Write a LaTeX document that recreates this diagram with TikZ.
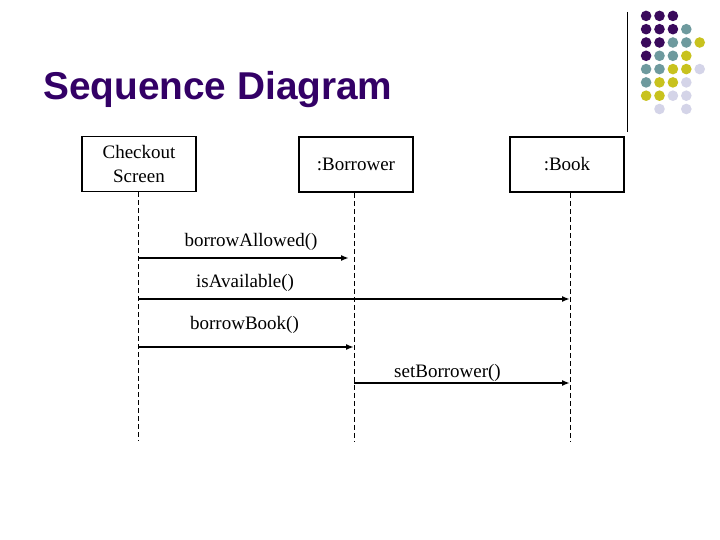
\documentclass[tikz,border=0pt]{standalone}
\usepackage{fontspec}
\setmainfont{Liberation Serif}
\newfontfamily\titlefont{Liberation Sans}
\usetikzlibrary{arrows.meta}
\definecolor{titlepurple}{RGB}{51,0,102}
\definecolor{dotP}{RGB}{58,10,92}
\definecolor{dotT}{RGB}{110,154,158}
\definecolor{dotY}{RGB}{200,194,30}
\definecolor{dotL}{RGB}{212,212,232}
\begin{document}
\begin{tikzpicture}[x=1pt,y=-1pt,
  objbox/.style={draw=black,line width=1.8pt,minimum width=114pt,minimum height=55pt,inner sep=0pt,
    font=\fontsize{19}{24}\selectfont,align=center},
  lifeline/.style={draw=black,line width=0.7pt,dash pattern=on 5pt off 3pt},
  msg/.style={draw=black,line width=1.6pt,-{Latex[length=8pt,width=6pt]}},
  msglabel/.style={font=\fontsize{19}{23}\selectfont,inner sep=0pt,anchor=base},
]
\useasboundingbox (0,0) rectangle (720,540);
\fill[white] (0,0) rectangle (720,540);
% title
\node[anchor=base west,inner sep=0pt,text=titlepurple,font=\titlefont\bfseries\fontsize{38.8}{44}\selectfont] (title) at (43,100) {Sequence Diagram};
% decoration
\draw[line width=0.8pt] (627,12) -- (627,132);
\foreach \c/\r/\col in {1/1/dotP,2/1/dotP,3/1/dotP,
  1/2/dotP,2/2/dotP,3/2/dotP,4/2/dotT,
  1/3/dotP,2/3/dotP,3/3/dotT,4/3/dotT,5/3/dotY,
  1/4/dotP,2/4/dotT,3/4/dotT,4/4/dotY,
  1/5/dotT,2/5/dotT,3/5/dotY,4/5/dotY,5/5/dotL,
  1/6/dotT,2/6/dotY,3/6/dotY,4/6/dotL,
  1/7/dotY,2/7/dotY,3/7/dotL,4/7/dotL,
  2/8/dotL,4/8/dotL}
  \fill[\col] ({632.7+13.4*\c},{2.6+13.3*\r}) circle (5.3pt);
% objects
\node[objbox] (cs) at (139,164) {Checkout\\Screen};
\node[objbox] (bw) at (356,164.5) {:Borrower};
\node[objbox] (bk) at (567,164.5) {:Book};
% lifelines
\coordinate (csend) at (138,441);
\coordinate (bwend) at (354,441);
\coordinate (bkend) at (570,441);
\draw[lifeline] (cs.south -| csend) -- (csend);
\draw[lifeline] (bw.south -| bwend) -- (bwend);
\draw[lifeline] (bk.south -| bkend) -- (bkend);
% message points
\coordinate (m1a) at (138,258); \coordinate (m1b) at (349,258);
\coordinate (m2a) at (138,299); \coordinate (m2b) at (570,299);
\coordinate (m3a) at (138,347); \coordinate (m3b) at (354,347);
\coordinate (m4a) at (354,383); \coordinate (m4b) at (570,383);
\draw[msg] (m1a) -- (m1b);
\draw[msg] (m2a) -- (m2b);
\draw[msg] (m3a) -- (m3b);
\draw[msg] (m4a) -- (m4b);
% labels
\node[msglabel] (l1) at (251,246) {borrowAllowed()};
\node[msglabel] (l2) at (245,287) {isAvailable()};
\node[msglabel] (l3) at (244.5,329) {borrowBook()};
\node[msglabel] (l4) at (447.5,377) {setBorrower()};
\end{tikzpicture}
\end{document}
